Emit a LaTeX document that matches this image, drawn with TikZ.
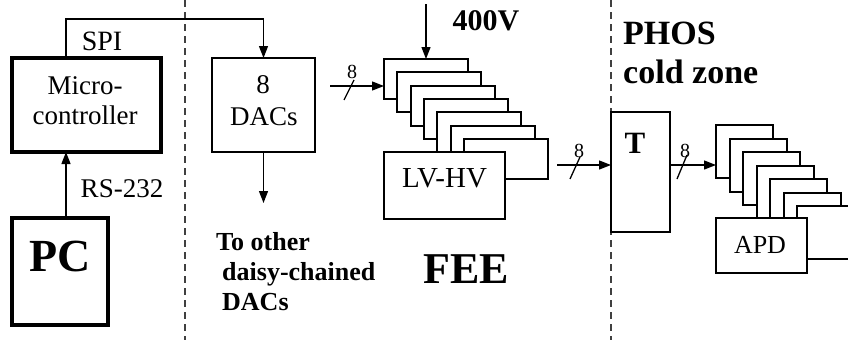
\documentclass[tikz,border=0pt]{standalone}
\usepackage{fontspec}
\setmainfont{Liberation Serif}
\usetikzlibrary{arrows.meta,calc}
\begin{document}
\begin{tikzpicture}[x=1pt,y=-1pt,
 box/.style={draw, fill=white, inner sep=0pt, outer sep=0pt, line width=2pt},
 heavybox/.style={box, line width=3.5pt},
 conn/.style={line width=1.3pt},
 arr/.style={conn, -{Triangle[length=12pt,width=9pt]}},
 divider/.style={line width=1.4pt, dash pattern=on 7pt off 5pt, black!75},
 txt/.style={font=\fontsize{27}{30}\selectfont, inner sep=0pt, anchor=base},
 btxt/.style={font=\fontsize{26}{30}\selectfont\bfseries, inner sep=0pt, anchor=base},
 bustxt/.style={font=\fontsize{20}{20}\selectfont, inner sep=0pt, anchor=base},
]
\useasboundingbox (0,0) rectangle (848,340);
\fill[white] (0,0) rectangle (848,340);

% dividers
\coordinate (d1t) at (185,0); \coordinate (d1b) at (185,340);
\coordinate (d2t) at (611,0); \coordinate (d2b) at (611,340);
\draw[divider] (d1t) -- (d1b);
\draw[divider] (d2t) -- (d2b);

% left boxes
\node[heavybox, minimum width=149pt, minimum height=94pt] (micro) at (86.5,105) {};
\node[box, line width=2.5pt, minimum width=103pt, minimum height=94pt] (dacs) at (263.5,105) {};
\node[heavybox, minimum width=96pt, minimum height=107pt] (pc) at (60,271.5) {};

\node[txt] (microA) at (85,94) {Micro-};
\node[txt] (microB) at (85,124) {controller};
\node[txt] (dacsA) at (263,93) {8};
\node[txt] (dacsB) at (264,125) {DACs};
\node[btxt, font=\fontsize{46}{46}\selectfont\bfseries] (pctxt) at (60,271) {PC};
\node[txt, font=\fontsize{28}{30}\selectfont] (spi) at (102,50) {SPI};
\node[txt] (rs) at (122,197) {RS-232};

% SPI and RS-232 connectors
\coordinate (spitop) at (66,19);
\draw[arr] (micro.north -| spitop) -- (spitop) -| (dacs.north);
\draw[arr] (pc.north -| spitop) -- (micro.south -| spitop);

% DACs out
\coordinate (dacsout) at (263.5,203);
\draw[arr] (dacs.south) -- (dacsout);
\node[btxt, anchor=base west] (oth1) at (216,250) {To other};
\node[btxt, anchor=base west] (oth2) at (222,280) {daisy-chained};
\node[btxt, anchor=base west] (oth3) at (222,310) {DACs};

% FEE stack
\foreach \i in {0,...,6}{
  \node[box, minimum width=84pt, minimum height=40pt] (fee\i) at ({384+13.33*\i+42},{59+13.33*\i+20}) {};
}
\node[box, minimum width=121pt, minimum height=67pt] (lvhv) at (444.5,185.5) {};
\node[txt, font=\fontsize{29}{30}\selectfont] (lvhvtxt) at (444.5,187) {LV-HV};
\node[btxt, font=\fontsize{44}{44}\selectfont\bfseries] (fee) at (466.5,283) {FEE};

% 400V
\coordinate (hvtop) at (426,4);
\draw[arr] (hvtop) -- (fee0.north);
\node[btxt, font=\fontsize{30}{30}\selectfont\bfseries] (hv) at (486,30) {400V};

% bus into FEE
\coordinate (busA) at (330,86);
\draw[arr] (busA) -- (busA -| fee0.west);
\coordinate (slA1) at (344,100); \coordinate (slA2) at (354,80);
\draw[conn] (slA1) -- (slA2);
\node[bustxt] (bA) at (352,78) {8};

% T box
\node[box, minimum width=59pt, minimum height=120pt] (tbox) at (640.5,172) {};
\node[btxt, font=\fontsize{31}{31}\selectfont\bfseries] (ttxt) at (635,153) {T};

% FEE -> T
\coordinate (busB) at (557,165);
\draw[arr] (busB) -- (busB -| tbox.west);
\coordinate (slB1) at (570,179); \coordinate (slB2) at (580,157);
\draw[conn] (slB1) -- (slB2);
\node[bustxt] (bB) at (579,157) {8};

% PHOS label
\node[btxt, anchor=base west, font=\fontsize{34}{34}\selectfont\bfseries] (phos1) at (623,44) {PHOS};
\node[btxt, anchor=base west, font=\fontsize{34}{34}\selectfont\bfseries] (phos2) at (623,83) {cold zone};

% APD stack
\begin{scope}
\clip (0,0) rectangle (848,340);
\foreach \i in {0,...,6}{
  \node[box, minimum width=57pt, minimum height=53pt] (apd\i) at ({716+13.5*\i+28.5},{125+13.5*\i+26.5}) {};
}
\node[box, minimum width=91pt, minimum height=55pt] (apd) at (761.5,245.5) {};
\end{scope}
\node[txt, font=\fontsize{26}{30}\selectfont] (apdtxt) at (760,253) {APD};

% T -> APD
\draw[arr] (tbox.east |- busB) -- (busB -| apd0.west);
\coordinate (slC1) at (677,179); \coordinate (slC2) at (687,155);
\draw[conn] (slC1) -- (slC2);
\node[bustxt] (bC) at (685,157) {8};
\end{tikzpicture}
\end{document}
